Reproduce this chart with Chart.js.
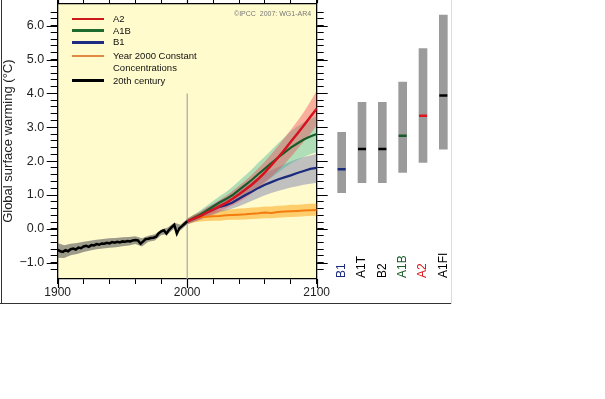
<!DOCTYPE html>
<html>
<head>
<meta charset="utf-8">
<script src="https://cdn.jsdelivr.net/npm/chart.js@4.4.1/dist/chart.umd.min.js"></script>
<style>
    html, body { margin: 0; padding: 0; background: #fff; }
    body { width: 605px; height: 399px; position: relative; overflow: hidden; font-family: "Liberation Sans", Arial, sans-serif; }
    #main { position: absolute; left: 0; top: 0; }
    #side { position: absolute; left: 325px; top: 0; }
    .frame { position: absolute; }
    #legend { position: absolute; left: 0; top: 0; }
    #legend .ln { position: absolute; left: 72px; width: 32px; height: 2.5px; }
    #legend .tx { position: absolute; left: 113px; font-size: 9.5px; line-height: 11.5px; color: #111; white-space: nowrap; }
    #copy { position: absolute; left: 234px; top: 10px; font-size: 7px; color: #777; white-space: pre; }
</style>
</head>
<body>
<div class="frame" style="left:1px;top:0;width:1.3px;height:304px;background:#333"></div>
<div class="frame" style="left:0;top:303px;width:452px;height:1.2px;background:#333"></div>
<div class="frame" style="left:451px;top:0;width:1px;height:304px;background:#ddd"></div>
<canvas id="main" width="335" height="305"></canvas>
<canvas id="side" width="135" height="305"></canvas>
<div id="legend"></div>
<div id="copy">©IPCC  2007: WG1-AR4</div>

<script>
// axis settings
const yMin = -1.48;
const yMax = 6.66;
const yMajor = [-1, 0, 1, 2, 3, 4, 5, 6];
const xMajor = [1900, 2000, 2100];
const markYear = 2000;
const markTop = 4.0;

// 20th century observations (model mean) and spread
const c20Years = [1900,1902,1904,1906,1908,1910,1912,1914,1916,1918,1920,1922,1924,1926,1928,1930,1932,1934,1936,1938,1940,1942,1944,1946,1948,1950,1952,1954,1956,1958,1960,1962,1964,1966,1968,1970,1972,1974,1976,1978,1980,1982,1984,1986,1988,1990,1992,1994,1996,1998,2000];
const c20Mean = [-0.62,-0.66,-0.68,-0.63,-0.66,-0.60,-0.58,-0.61,-0.55,-0.57,-0.52,-0.50,-0.53,-0.48,-0.49,-0.45,-0.47,-0.43,-0.44,-0.41,-0.43,-0.39,-0.41,-0.38,-0.40,-0.37,-0.38,-0.36,-0.37,-0.34,-0.33,-0.34,-0.44,-0.37,-0.30,-0.29,-0.27,-0.26,-0.23,-0.13,-0.07,-0.04,-0.14,-0.03,0.05,0.12,-0.14,0.02,0.08,0.15,0.22];
const c20BandYears = [1900,1905,1910,1915,1920,1925,1930,1935,1940,1945,1950,1955,1960,1965,1970,1975,1980,1985,1990,1995,2000];
const c20Hi = [-0.42,-0.48,-0.44,-0.42,-0.38,-0.35,-0.32,-0.30,-0.28,-0.27,-0.25,-0.24,-0.22,-0.28,-0.20,-0.16,-0.02,0.04,0.18,0.12,0.30];
const c20Lo = [-0.85,-0.86,-0.78,-0.74,-0.68,-0.64,-0.60,-0.58,-0.56,-0.54,-0.51,-0.49,-0.45,-0.52,-0.38,-0.34,-0.18,-0.16,0.02,-0.04,0.14];

// scenario projections 2000-2100
const projYears = [2000,2005,2010,2015,2020,2025,2030,2035,2040,2045,2050,2055,2060,2065,2070,2075,2080,2085,2090,2095,2100];
const a2Mean = [0.22,0.30,0.38,0.48,0.57,0.67,0.77,0.89,1.02,1.16,1.31,1.48,1.67,1.88,2.10,2.33,2.57,2.81,3.05,3.30,3.55];
const a2Hi = [0.30,0.40,0.50,0.62,0.73,0.85,0.98,1.12,1.27,1.43,1.60,1.79,1.99,2.21,2.44,2.68,2.93,3.18,3.44,3.75,4.08];
const a2Lo = [0.14,0.21,0.28,0.36,0.44,0.52,0.61,0.70,0.80,0.92,1.05,1.20,1.36,1.53,1.71,1.91,2.12,2.35,2.57,2.80,3.05];
const a1bMean = [0.22,0.32,0.42,0.54,0.66,0.78,0.88,1.00,1.15,1.30,1.45,1.62,1.78,1.94,2.10,2.25,2.40,2.52,2.64,2.73,2.80];
const a1bHi = [0.30,0.42,0.54,0.68,0.82,0.96,1.09,1.24,1.41,1.58,1.76,1.96,2.14,2.33,2.52,2.70,2.88,3.02,3.15,3.25,3.33];
const a1bLo = [0.14,0.22,0.30,0.40,0.50,0.60,0.68,0.77,0.89,1.00,1.12,1.26,1.39,1.52,1.66,1.80,1.93,2.03,2.12,2.20,2.26];
const b1Mean = [0.22,0.30,0.38,0.48,0.57,0.65,0.70,0.78,0.89,1.00,1.10,1.21,1.30,1.38,1.46,1.52,1.58,1.65,1.71,1.77,1.80];
const b1Hi = [0.30,0.40,0.50,0.62,0.73,0.84,0.93,1.03,1.15,1.27,1.39,1.51,1.63,1.73,1.82,1.91,1.99,2.06,2.12,2.17,2.22];
const b1Lo = [0.14,0.20,0.27,0.35,0.42,0.49,0.54,0.60,0.67,0.75,0.83,0.91,0.99,1.06,1.12,1.17,1.22,1.26,1.30,1.33,1.36];
const constMean = [0.22,0.30,0.34,0.36,0.37,0.38,0.40,0.41,0.42,0.43,0.45,0.46,0.48,0.47,0.50,0.51,0.52,0.53,0.54,0.55,0.56];
const constHi = [0.30,0.42,0.48,0.52,0.53,0.55,0.57,0.58,0.60,0.61,0.63,0.64,0.66,0.66,0.68,0.69,0.71,0.71,0.73,0.74,0.75];
const constLo = [0.14,0.19,0.22,0.23,0.24,0.24,0.26,0.27,0.27,0.28,0.29,0.30,0.31,0.31,0.33,0.34,0.35,0.36,0.37,0.38,0.39];

// likely ranges for 2090-2099 by scenario
const scenarioNames = ['B1', 'A1T', 'B2', 'A1B', 'A2', 'A1FI'];
const scenarioBest = [1.8, 2.4, 2.4, 2.8, 3.4, 4.0];
const scenarioLow = [1.1, 1.4, 1.4, 1.7, 2.0, 2.4];
const scenarioHigh = [2.9, 3.8, 3.8, 4.4, 5.4, 6.4];

const legendNames = ['A2', 'A1B', 'B1', 'Year 2000 Constant\nConcentrations', '20th century'];

const colors = {
    A2: '#d7121f',
    A1B: '#175c28',
    B1: '#1c2a7e',
    constant: '#f27c10',
    c20: '#000000'
};
const legendColors = ['#cc1a1a', '#1e6b2e', '#1d2b82', '#de8a42', '#000'];
const legendTops = [19, 30.7, 42.3, 56, 80.7];
const scenarioColors = ['#1c2a7e', '#000', '#000', '#175c28', '#e0161e', '#000'];

Chart.defaults.font.family = '"Liberation Sans", Arial, sans-serif';
Chart.defaults.color = '#222';

function pts(xs, ys) {
    return xs.map((x, i) => ({ x: x, y: ys[i] }));
}

function band(xs, hi, lo, color, order) {
    return [
        { data: pts(xs, hi), borderWidth: 0, pointRadius: 0, backgroundColor: color, fill: '+1', order: order },
        { data: pts(xs, lo), borderWidth: 0, pointRadius: 0, fill: false, order: order + 1 }
    ];
}

function line(xs, ys, color, width, order) {
    return { data: pts(xs, ys), borderColor: color, borderWidth: width, pointRadius: 0, fill: false, order: order };
}

function keepFifths(scale) {
    scale.ticks = scale.ticks.filter(t => Math.abs(t.value * 5 - Math.round(t.value * 5)) < 1e-6);
}

function keepTwenties(scale) {
    scale.ticks = scale.ticks.filter(t => t.value % 20 === 0);
}

// fixed axis sizes so the plot box sits where the original one does
function fixWidth(w) {
    return s => { s.width = w; s.paddingTop = 0; s.paddingBottom = 0; };
}
function fixHeight(h) {
    return s => { s.height = h; s.paddingLeft = 0; s.paddingRight = 0; };
}

// pale yellow plot background
const plotBg = {
    id: 'plotBg',
    beforeDraw(chart) {
        const { ctx, chartArea: a } = chart;
        ctx.save();
        ctx.fillStyle = '#fffbcd';
        ctx.fillRect(a.left, a.top, a.width, a.height);
        ctx.restore();
    }
};

// longer tick marks at the labelled values
const majorTicks = {
    id: 'majorTicks',
    afterDraw(chart) {
        const { ctx, chartArea: a } = chart;
        const ys = chart.scales.y;
        const xs = chart.scales.x;
        ctx.save();
        ctx.strokeStyle = '#000';
        ctx.lineWidth = 1.2;
        ctx.beginPath();
        yMajor.forEach(v => {
            const py = Math.round(ys.getPixelForValue(v)) + 0.5;
            ctx.moveTo(a.left - 11, py); ctx.lineTo(a.left, py);
            ctx.moveTo(a.right, py); ctx.lineTo(a.right + 11, py);
        });
        xMajor.forEach(v => {
            const px = Math.round(xs.getPixelForValue(v)) + 0.5;
            ctx.moveTo(px, a.bottom); ctx.lineTo(px, a.bottom + 9);
            ctx.moveTo(px, a.top); ctx.lineTo(px, a.top - 9);
        });
        ctx.stroke();
        ctx.restore();
    }
};

const tickGrid = { drawOnChartArea: false, color: '#000', tickLength: 6, tickWidth: 1 };
const axisBorder = { color: '#000', width: 1.3 };

new Chart(document.getElementById('main'), {
    type: 'line',
    data: {
        datasets: [
            { data: [{ x: markYear, y: yMin }, { x: markYear, y: markTop }], borderColor: '#a8a8a8', borderWidth: 1.2, pointRadius: 0, fill: false, order: 200 },
            ...band(c20BandYears, c20Hi, c20Lo, 'rgba(95,95,95,0.62)', 150),
            ...band(projYears, constHi, constLo, 'rgba(255,170,30,0.55)', 140),
            ...band(projYears, b1Hi, b1Lo, 'rgba(115,120,175,0.45)', 130),
            ...band(projYears, a1bHi, a1bLo, 'rgba(55,180,150,0.40)', 120),
            ...band(projYears, a2Hi, a2Lo, 'rgba(240,70,85,0.42)', 110),
            line(projYears, constMean, colors.constant, 2, 50),
            line(projYears, b1Mean, colors.B1, 2.2, 45),
            line(projYears, a1bMean, colors.A1B, 2.2, 40),
            line(projYears, a2Mean, colors.A2, 2.5, 35),
            line(c20Years, c20Mean, colors.c20, 2.5, 30)
        ]
    },
    options: {
        responsive: false,
        animation: false,
        events: [],
        layout: { padding: 0 },
        elements: { line: { tension: 0 } },
        plugins: { legend: { display: false }, tooltip: { enabled: false } },
        scales: {
            x: {
                type: 'linear', position: 'bottom', min: 1900, max: 2100,
                afterBuildTicks: keepTwenties,
                ticks: {
                    stepSize: 20, autoSkip: false, maxRotation: 0, padding: 1,
                    font: { size: 12 }, color: '#222',
                    callback: v => xMajor.includes(v) ? String(v) : ''
                },
                grid: Object.assign({}, tickGrid, { tickLength: 5 }),
                border: axisBorder,
                afterFit: fixHeight(26)
            },
            xTop: {
                type: 'linear', position: 'top', min: 1900, max: 2100,
                afterBuildTicks: keepTwenties,
                ticks: { stepSize: 20, display: false },
                grid: Object.assign({}, tickGrid, { tickLength: 5 }),
                border: axisBorder,
                afterFit: fixHeight(3.3)
            },
            y: {
                type: 'linear', position: 'left', min: yMin, max: yMax,
                afterBuildTicks: keepFifths,
                ticks: {
                    stepSize: 0.2, autoSkip: false, padding: 6.5,
                    font: { size: 12.5 }, color: '#222',
                    callback: v => {
                        const r = Math.round(v);
                        if (Math.abs(v - r) > 1e-6 || !yMajor.includes(r)) return '';
                        return r.toFixed(1).replace('-', '\u2212');
                    }
                },
                grid: Object.assign({}, tickGrid, { tickLength: 7 }),
                border: axisBorder,
                title: {
                    display: true, text: 'Global surface warming (°C)',
                    font: { size: 13 }, color: '#222', padding: { top: 1, bottom: 0 }
                },
                afterFit: fixWidth(57.7)
            },
            yRight: {
                type: 'linear', position: 'right', min: yMin, max: yMax,
                afterBuildTicks: keepFifths,
                ticks: { stepSize: 0.2, display: false },
                grid: Object.assign({}, tickGrid, { tickLength: 7 }),
                border: axisBorder,
                afterFit: fixWidth(18.3)
            }
        }
    },
    plugins: [plotBg, majorTicks]
});

// scenario names written upward under each bar
const sideLabels = {
    id: 'sideLabels',
    afterDraw(chart) {
        const ctx = chart.ctx;
        const xs = chart.scales.x;
        const base = chart.chartArea.bottom - 1;
        ctx.save();
        ctx.font = '12px "Liberation Sans", Arial, sans-serif';
        ctx.textAlign = 'left';
        ctx.textBaseline = 'middle';
        scenarioNames.forEach((name, i) => {
            ctx.save();
            ctx.translate(xs.getPixelForValue(i), base);
            ctx.rotate(-Math.PI / 2);
            ctx.fillStyle = scenarioColors[i];
            ctx.fillText(name, 0, 0);
            ctx.restore();
        });
        ctx.restore();
    }
};

new Chart(document.getElementById('side'), {
    data: {
        labels: scenarioNames,
        datasets: [
            {
                type: 'line', data: scenarioBest, showLine: false,
                pointStyle: 'line', pointRadius: 4, pointBorderWidth: 2.5,
                pointBorderColor: scenarioColors, order: 0
            },
            {
                type: 'bar', data: scenarioLow.map((lo, i) => [lo, scenarioHigh[i]]),
                backgroundColor: '#9b9b9b', barThickness: 8, order: 1
            }
        ]
    },
    options: {
        responsive: false,
        animation: false,
        events: [],
        layout: { padding: { left: 4.6, right: 5.6, top: 3.3, bottom: 26 } },
        plugins: { legend: { display: false }, tooltip: { enabled: false } },
        scales: {
            x: { display: false },
            y: { display: false, min: yMin, max: yMax }
        }
    },
    plugins: [sideLabels]
});

// legend inside the plot, top left
const legendEl = document.getElementById('legend');
legendNames.forEach((name, i) => {
    const ln = document.createElement('div');
    ln.className = 'ln';
    ln.style.top = (legendTops[i] - 1.25) + 'px';
    ln.style.background = legendColors[i];
    legendEl.appendChild(ln);

    const tx = document.createElement('div');
    tx.className = 'tx';
    tx.style.top = (legendTops[i] - 6) + 'px';
    name.split('\n').forEach((part, j) => {
        if (j > 0) tx.appendChild(document.createElement('br'));
        tx.appendChild(document.createTextNode(part));
    });
    legendEl.appendChild(tx);
});
</script>
</body>
</html>
